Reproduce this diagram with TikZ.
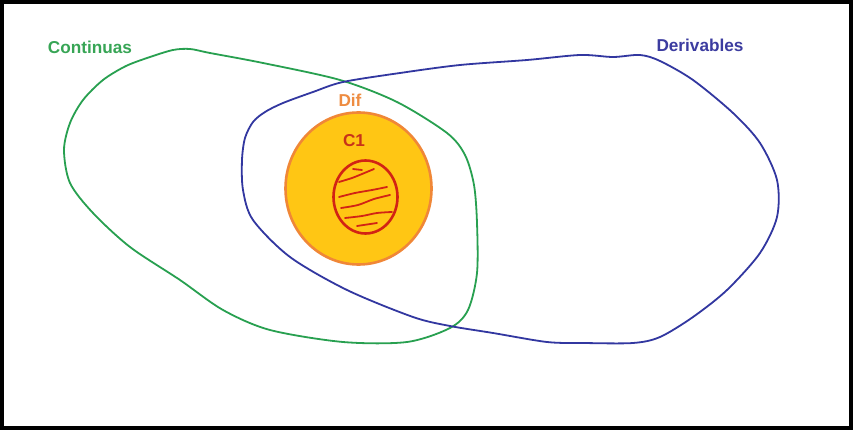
\documentclass[tikz,border=0pt]{standalone}
\usepackage{fontspec}
\setmainfont{Liberation Sans}
\definecolor{cgreen}{RGB}{40,160,80}
\definecolor{cblue}{RGB}{50,55,160}
\definecolor{corange}{RGB}{240,135,55}
\definecolor{cfill}{RGB}{255,198,20}
\definecolor{cred}{RGB}{210,35,20}
\definecolor{ctxtgreen}{RGB}{55,165,85}
\definecolor{ctxtblue}{RGB}{60,60,160}
\definecolor{ctxtorange}{RGB}{238,140,65}
\definecolor{ctxtred}{RGB}{200,50,25}
\begin{document}
\begin{tikzpicture}[x=1pt,y=-1pt,
  lbl/.style={font=\fontsize{17.2}{19}\selectfont\bfseries, inner sep=0pt},
  curve/.style={line width=1.8pt, line join=round}]
\useasboundingbox (0,0) rectangle (853,430);
\fill[white] (0,0) rectangle (853,430);
\draw[line width=4pt] (2,2) rectangle (851,428);
% Continuas
\draw[curve, cgreen] plot[smooth cycle, tension=0.5] coordinates {
 (150,57) (173,50) (190,49) (210,53) (263,63) (340,80) (397,102) (447,133) (465,155) (474,185) (477,223) (477,273) (468,310) (450,328) (407,342) (343,342) (270,330) (223,310) (180,280) (130,247) (93,213) (70,183) (64,150) (70,123) (83,100) (103,80) (126,66)};
% Derivables
\draw[curve, cblue] plot[smooth cycle, tension=0.5] coordinates {
 (343,82) (400,73) (460,65) (527,60) (580,55) (613,57) (640,55) (660,61) (693,80) (733,113) (760,143) (777,180) (777,217) (760,253) (727,290) (693,317) (660,337) (633,343) (583,343) (547,342) (493,333) (450,326) (413,317) (347,290) (290,257) (253,220) (243,190) (242,160) (245,138) (253,122) (265,112) (283,103) (313,92)};
% Dif disc
\draw[line width=2.6pt, corange, fill=cfill] (358.5,188.5) ellipse [x radius=73, y radius=76];
% C1 ellipse
\draw[line width=2.6pt, cred] (365.5,197) ellipse [x radius=32, y radius=36.5];
\begin{scope}[cred, line width=1.8pt, line cap=round]
\draw (353,169) -- (362,170);
\draw plot[smooth] coordinates {(339,182) (352,178) (362,174) (374,169)};
\draw plot[smooth] coordinates {(339,197) (355,193) (372,190) (387,187)};
\draw plot[smooth] coordinates {(341,208) (358,205) (374,199) (390,195)};
\draw plot[smooth] coordinates {(345,218) (362,216) (377,213) (392,212)};
\draw (357,226) -- (377,223);
\end{scope}
% labels
\node[lbl, text=ctxtgreen] (continuas) at (90,47) {Continuas};
\node[lbl, text=ctxtblue] (derivables) at (700,45) {Derivables};
\node[lbl, text=ctxtorange] (dif) at (350,100) {Dif};
\node[lbl, text=ctxtred] (c1) at (354,141) {C1};
\end{tikzpicture}
\end{document}
